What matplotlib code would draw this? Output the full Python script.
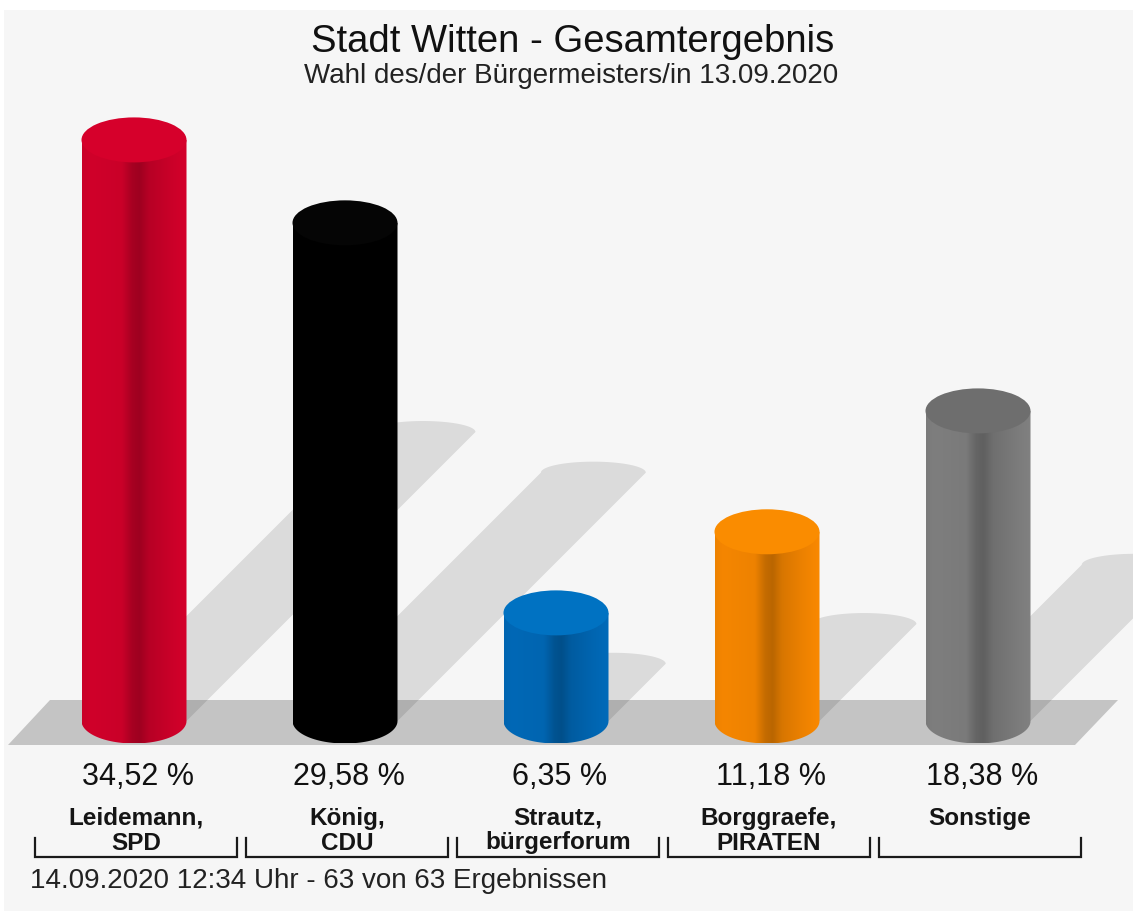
import numpy as np
import matplotlib
matplotlib.use('Agg')
import matplotlib.pyplot as plt
from matplotlib.patches import Polygon, Ellipse

plt.rcParams['font.family'] = ['Liberation Sans', 'DejaVu Sans']

# data
candidates = ['Leidemann,\nSPD', 'König,\nCDU', 'Strautz,\nbürgerforum',
              'Borggraefe,\nPIRATEN', 'Sonstige']
shares = [34.52, 29.58, 6.35, 11.18, 18.38]
share_labels = ['34,52 %', '29,58 %', '6,35 %', '11,18 %', '18,38 %']
bar_colors = ['#d0002a', '#000000', '#0068b6', '#f58600', '#7e7e7e']
top_colors = ['#d6002b', '#050505', '#0072c2', '#fa8c00', '#6e6e6e']

# pixel layout of the 1133x911 picture
W, H = 1133, 911
XU = 211.0    # px per category
YU = 16.79    # px per percent
X0, Y0 = 134, 697   # px of category 0 / 0 %

def dx(p):
    return p / XU

def dy(p):
    return p / YU

def px(x, y):
    # pixel position -> data position
    return ((x - X0) / XU, (Y0 - y) / YU)

fig = plt.figure(figsize=(W / 100, H / 100), dpi=100)
fig.patch.set_facecolor('white')
ax = fig.add_axes([0, 0, 1, 1])
ax.set_axis_off()

# wall
ax.add_patch(Polygon([px(4, 10), px(W, 10), px(W, H), px(4, H)],
                     closed=True, facecolor='#f6f6f6', edgecolor='none', zorder=0))

# floor
ax.add_patch(Polygon([px(50, 700), px(1118, 700), px(1075, 745), px(8, 745)],
                     closed=True, facecolor='#c4c4c4', edgecolor='none', zorder=1))

rx = dx(52.5)
ry = dy(22.5)
yb = -dy(24)          # centre of the bottom ellipse
cap = dy(11)

# shading across a cylinder (left .. right)
prof_x = [0.0, 0.08, 0.38, 0.48, 0.55, 0.64, 0.85, 1.0]
prof_f = [0.97, 1.0, 0.97, 0.8, 0.76, 0.88, 0.97, 1.02]
xs = np.linspace(0, 1, 200)
shade = np.interp(xs, prof_x, prof_f)

for i, v in enumerate(shares):
    # shadow on wall and floor
    s = 0.49 * v * YU + 5
    sx, sy = dx(s), dy(s)
    t = np.linspace(0, np.pi, 40)
    capx = i + sx + rx * np.cos(t)
    capy = yb + sy + cap * np.sin(t)
    pts = [(i - rx, yb), (i + rx, yb)] + list(zip(capx, capy))
    ax.add_patch(Polygon(pts, closed=True, facecolor='black', alpha=0.105,
                         edgecolor='none', zorder=2))

    # cylinder body
    yt = v - ry
    t = np.linspace(0, -np.pi, 60)
    body = [(i - rx, yt), (i + rx, yt)] + list(zip(i + rx * np.cos(t), yb + ry * np.sin(t)))
    body_patch = Polygon(body, closed=True, facecolor='none', edgecolor='none', zorder=3)
    ax.add_patch(body_patch)
    rgb = np.array(matplotlib.colors.to_rgb(bar_colors[i]))
    grad = np.clip(shade[:, None] * rgb[None, :], 0, 1)
    im = ax.imshow(grad[None, :, :], extent=[i - rx, i + rx, yb - ry, yt],
                   aspect='auto', interpolation='bilinear', zorder=3)
    im.set_clip_path(body_patch)

    # top
    ax.add_patch(Ellipse((i, yt), 2 * rx, 2 * ry, facecolor=top_colors[i],
                         edgecolor='none', zorder=4))

    # labels
    ax.text(i + dx(4), dy(Y0 - 777), share_labels[i], ha='center', va='center',
            fontsize=22, color='#111111', zorder=5)
    for k, line in enumerate(candidates[i].split('\n')):
        ax.text(i + dx(2), dy(Y0 - 818 - 25 * k), line, ha='center', va='center',
                fontsize=17.5, fontweight='bold', color='#151515', zorder=5)

    # bracket
    bl, br = i - dx(99), i + dx(103)
    ax.plot([bl, bl, br, br], [dy(Y0 - 838), dy(Y0 - 857), dy(Y0 - 857), dy(Y0 - 838)],
            color='#1a1a1a', lw=1.6, solid_joinstyle='miter', zorder=5)

ax.set_xlim(-X0 / XU, (W - X0) / XU)
ax.set_ylim(-(H - Y0) / YU, Y0 / YU)

fig.text(573 / W, 1 - 42 / H, 'Stadt Witten - Gesamtergebnis', ha='center', va='center',
         fontsize=27.5, color='#111111')
fig.text(571 / W, 1 - 76 / H, 'Wahl des/der Bürgermeisters/in 13.09.2020', ha='center',
         va='center', fontsize=20, color='#222222')
fig.text(30 / W, 1 - 881 / H, '14.09.2020 12:34 Uhr - 63 von 63 Ergebnissen', ha='left',
         va='center', fontsize=20, color='#222222')

fig.savefig('out.png', dpi=100, facecolor=fig.get_facecolor())
